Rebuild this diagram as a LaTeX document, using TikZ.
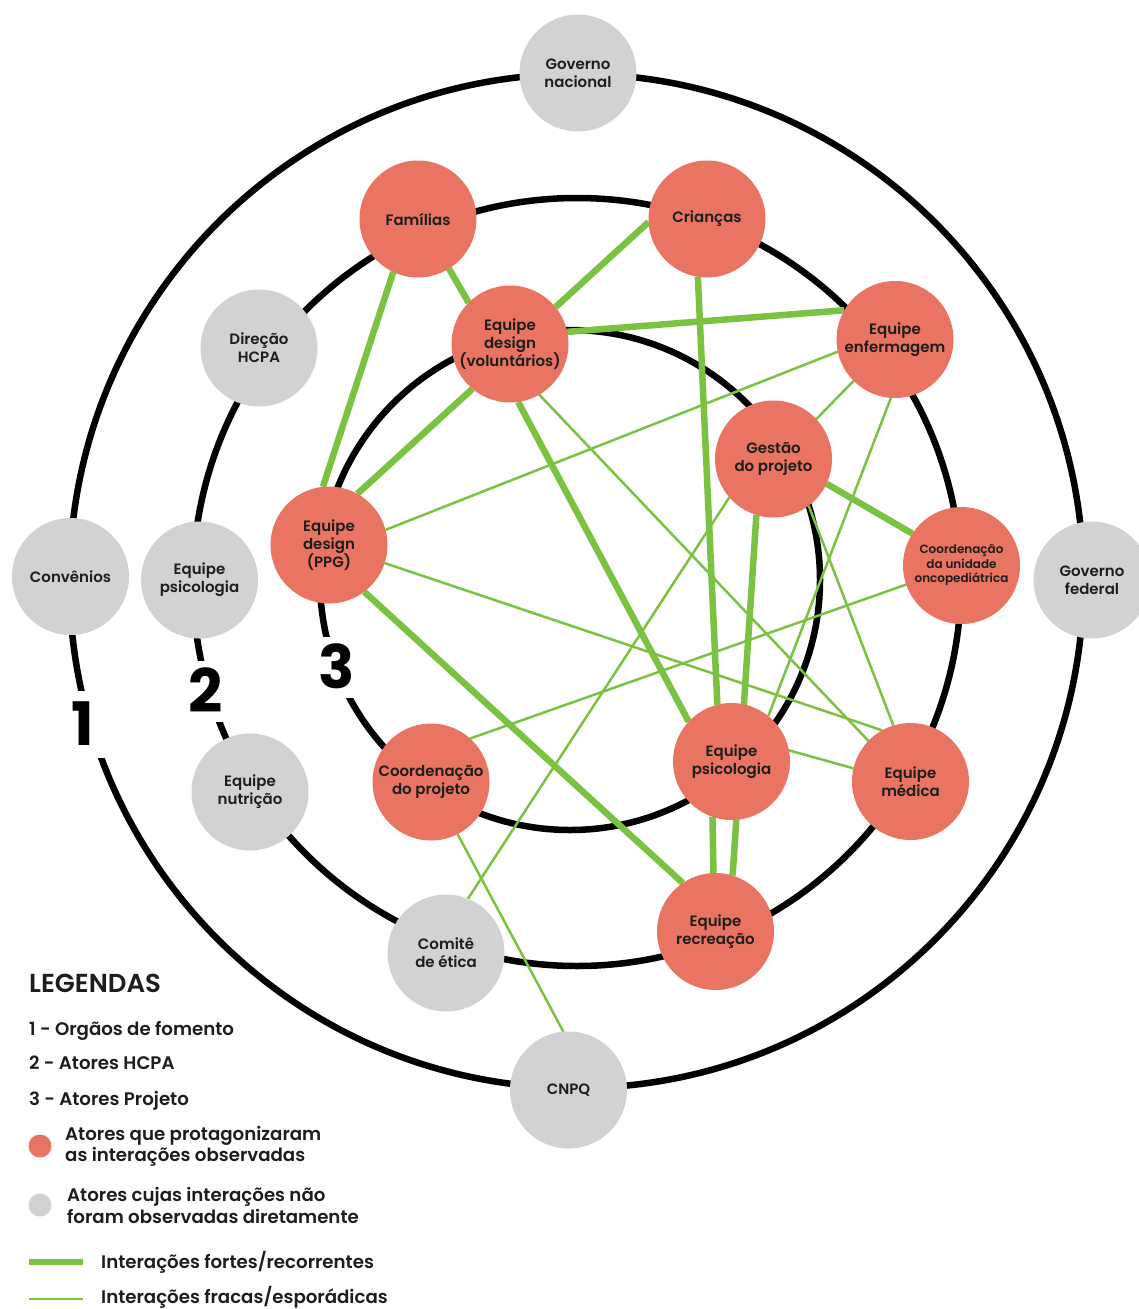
\documentclass[tikz,border=0pt]{standalone}
\usepackage{fontspec}
\setmainfont{Poppins}[UprightFont=* SemiBold, BoldFont=* Bold]
\definecolor{nodered}{HTML}{E97461}
\definecolor{nodegray}{HTML}{D1D2D4}
\definecolor{edgegreen}{HTML}{7CC242}
\definecolor{ink}{HTML}{1D1D1B}
\pgfdeclarelayer{rings}
\pgfdeclarelayer{links}
\pgfsetlayers{rings,links,main}
\tikzset{
 ring/.style={draw=black, line width=6.5pt},
 actor/.style={circle, minimum size=117pt, inner sep=0pt, outer sep=0pt, align=center, text=ink, font=\fontsize{15}{18}\selectfont},
 protag/.style={actor, fill=nodered},
 other/.style={actor, fill=nodegray},
 strong/.style={draw=edgegreen, line width=6.5pt},
 weak/.style={draw=edgegreen, line width=2.5pt},
 ringnum/.style={fill=white, inner sep=9pt, text height=43pt, text depth=0pt, text=black, font=\fontsize{60}{60}\selectfont\bfseries},
 legline/.style={anchor=base west, inner sep=0pt, text=ink, font=\fontsize{18.2}{21.5}\selectfont},
 legtwo/.style={anchor=west, inner sep=0pt, align=left, text=ink, font=\fontsize{18.2}{21.5}\selectfont},
 legdot/.style={circle, minimum size=23pt, inner sep=0pt},
}
\begin{document}
\begin{tikzpicture}[x=1pt,y=-1pt]
\useasboundingbox (0,0) rectangle (1139,1309);

% background and rings
\begin{pgfonlayer}{rings}
\fill[white] (0,0) rectangle (1139,1309);
\draw[ring] (576.5,581) circle (507pt);
\draw[ring] (577,582) circle (384pt);
\draw[ring] (570,580) circle (250pt);
\end{pgfonlayer}

\node[ringnum, inner sep=12pt] (n1) at (83,724) {1};
\node[ringnum] (n2) at (206,691) {2};
\node[ringnum] (n3) at (337,667) {3};

% grey actors
\node[other] (gn) at (578,73) {Governo\\nacional};
\node[other] (dir) at (259,348) {Direção\\HCPA};
\node[other] (conv) at (70.5,576.5) {Convênios};
\node[other] (psig) at (199.5,580) {Equipe\\psicologia};
\node[other] (nut) at (250,792) {Equipe\\nutrição};
\node[other] (com) at (446,953) {Comitê\\de ética};
\node[other] (cnpq) at (568.5,1090) {CNPQ};
\node[other] (gf) at (1092,580) {Governo\\federal};

% red actors
\node[protag] (fam) at (418,219) {Famílias};
\node[protag] (cri) at (707,219) {Crianças};
\node[protag] (vol) at (510,344) {Equipe\\design\\(voluntários)};
\node[protag] (enf) at (895,339.5) {Equipe\\enfermagem};
\node[protag] (ges) at (773.5,459) {Gestão\\do projeto};
\node[protag, font=\fontsize{12}{14.5}\selectfont] (cun) at (961.5,565.5) {Coordenação\\da unidade\\oncopediátrica};
\node[protag] (ppg) at (329,545) {Equipe\\design\\(PPG)};
\node[protag] (cpj) at (431,782) {Coordenação\\do projeto};
\node[protag] (psi) at (731.5,761.5) {Equipe\\psicologia};
\node[protag] (med) at (910.5,781.5) {Equipe\\médica};
\node[protag] (rec) at (715.5,931.5) {Equipe\\recreação};

% links
\begin{pgfonlayer}{links}
\draw[strong] (fam.245) -- (ppg.96);
\draw[strong] (fam.302) -- (vol.135);
\draw[strong] (vol.39) -- (cri.183);
\draw[strong] (cri.261) -- (psi.104);
\draw[strong] (ges.253) -- (rec.73);
\draw[strong] (psi.251) -- (rec.92);
\draw[strong] (vol.12) -- (enf.150);
\draw[strong] (vol.230) -- (ppg.61);
\draw[strong] (vol.278) -- (psi.137);
\draw[strong] (ppg.307) -- (rec.124);
\draw[strong] (ges.335) -- (cun.147);
\draw[weak] (enf.192) -- (ppg.15);
\draw[weak] (enf.225) -- (ges.43);
\draw[weak] (enf.266) -- (psi.51);
\draw[weak] (vol.300) -- (med.136);
\draw[weak] (ppg.342) -- (med.119);
\draw[weak] (ges.307) -- (med.107);
\draw[weak] (ges.221) -- (com.68);
\draw[weak] (cun.199) -- (cpj.48);
\draw[weak] (cpj.297) -- (cnpq.95);
\draw[weak] (psi.11) -- (med.167);
\end{pgfonlayer}

% legend
\node[anchor=base west, inner sep=0pt, text=ink, font=\fontsize{26}{28}\selectfont] (legt) at (29,992) {LEGENDAS};
\node[legline] (leg1) at (29,1035) {1 - Orgãos de fomento};
\node[legline] (leg2) at (29,1069) {2 - Atores HCPA};
\node[legline] (leg3) at (29,1105) {3 - Atores Projeto};
\node[legdot, fill=nodered] (dotr) at (40,1146) {};
\node[legtwo] (legr) at (65,1146.5) {Atores que protagonizaram\\as interações observadas};
\node[legdot, fill=nodegray] (dotg) at (40,1205) {};
\node[legtwo] (legg) at (67,1205.5) {Atores cujas interações não\\foram observadas diretamente};
\coordinate (sa) at (29,1262);
\coordinate (sb) at (83,1262);
\draw[strong, line width=5.5pt] (sa) -- (sb);
\node[legline] (legs) at (101,1268) {Interações fortes/recorrentes};
\coordinate (wa) at (29,1299);
\coordinate (wb) at (83,1299);
\draw[weak] (wa) -- (wb);
\node[legline] (legw) at (101,1303.5) {Interações fracas/esporádicas};
\end{tikzpicture}
\end{document}
